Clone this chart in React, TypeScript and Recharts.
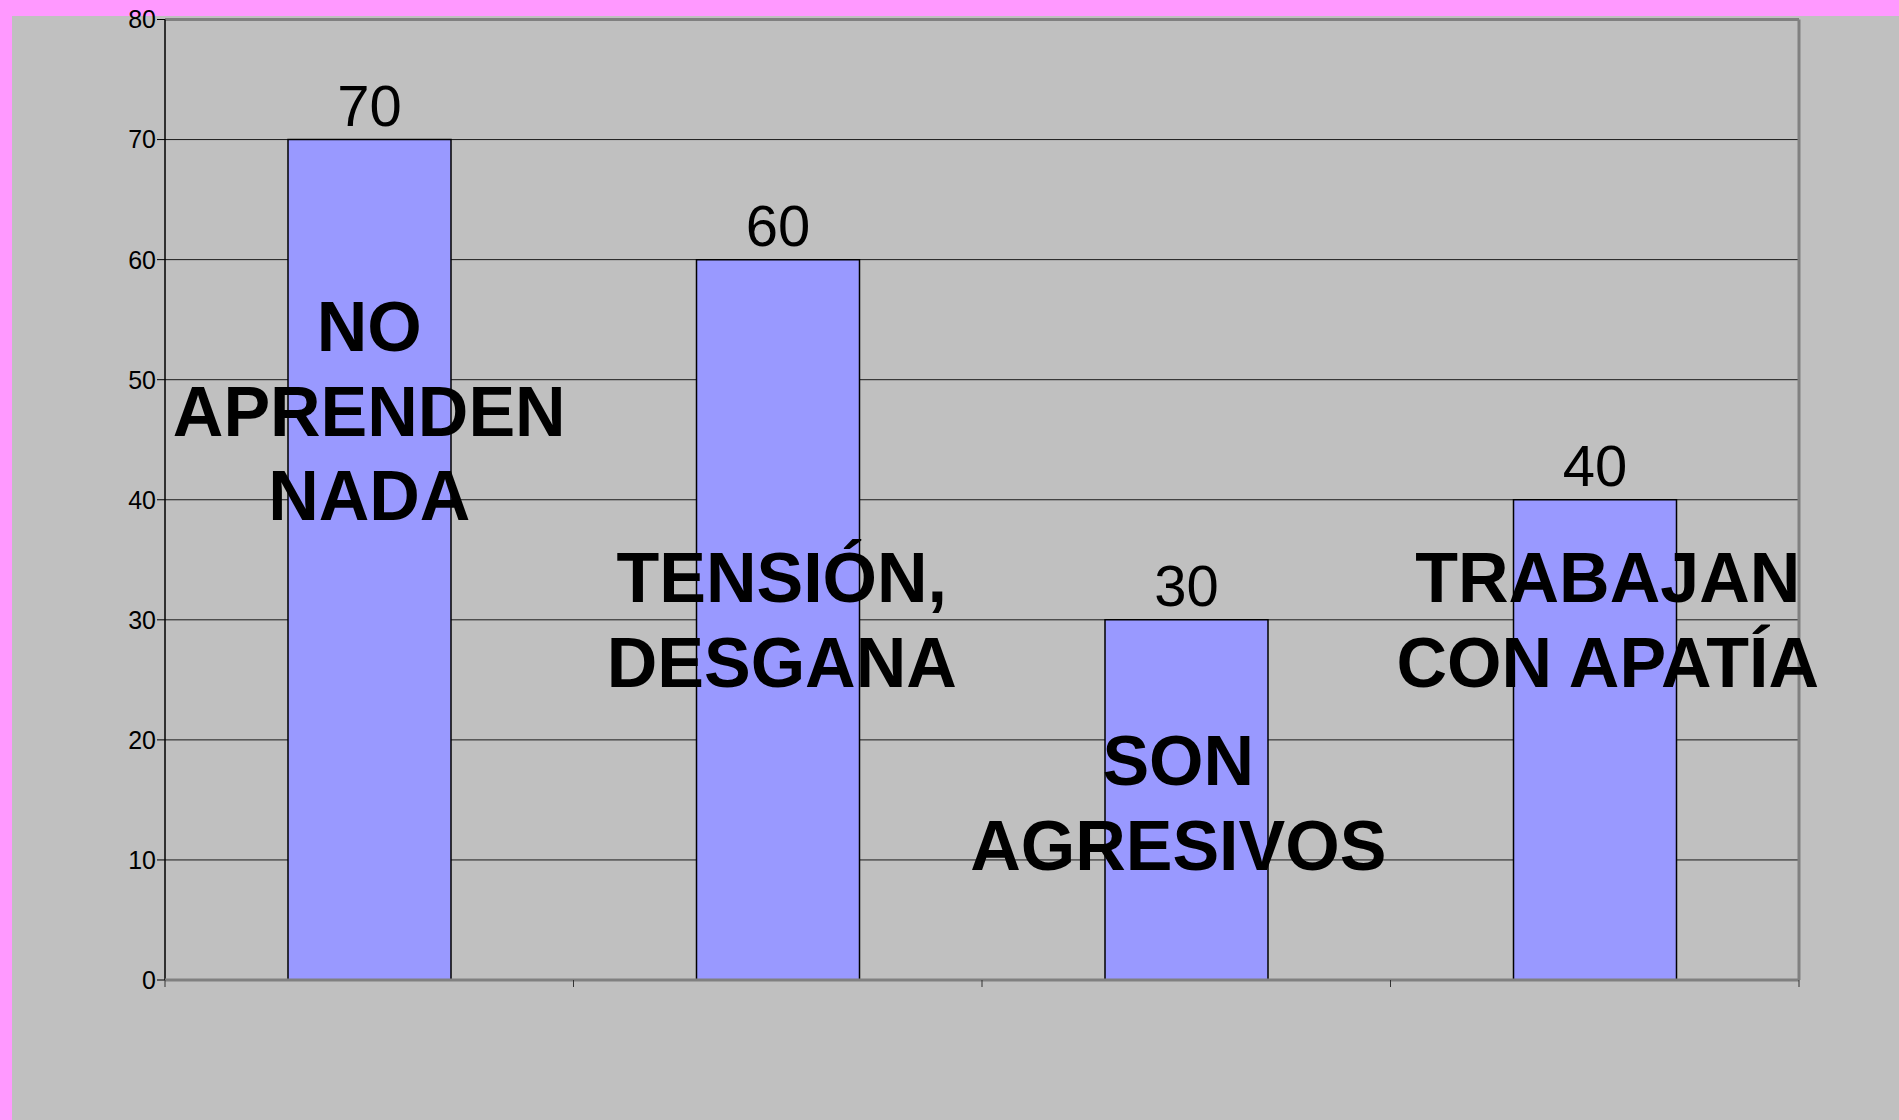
import { Bar, BarChart, CartesianGrid, LabelList, ReferenceLine, XAxis, YAxis } from 'recharts';

const categories = ['NO\nAPRENDEN\nNADA', 'TENSIÓN,\nDESGANA', 'SON\nAGRESIVOS', 'TRABAJAN\nCON APATÍA'];
const values = [70, 60, 30, 40];
const yTicks = [0, 10, 20, 30, 40, 50, 60, 70, 80];

// where each category caption sits (first baseline above the axis, horizontal nudge)
const CAPTION_LIFT = [629, 378, 195, 378];
const CAPTION_NUDGE = [0, 4, -8, 13];
const LINE_GAP = 84.5;

const FONT = '"Liberation Sans", Arial, sans-serif';

// caption + small tick marks on the category boundaries
function CategoryTick(props: any) {
  const { x, y, index, payload, visibleTicksCount } = props;
  const lines: string[] = String(payload.value).split('\n');
  const half = payload.offset || 0;
  const top = y - CAPTION_LIFT[index];
  const isLast = index === (visibleTicksCount ?? categories.length) - 1;
  return (
    <g>
      <line x1={x - half} x2={x - half} y1={y} y2={y + 7} stroke="#333" />
      {isLast && <line x1={x + half} x2={x + half} y1={y} y2={y + 7} stroke="#333" />}
      {lines.map((line, i) => (
        <text
          key={i}
          x={x + CAPTION_NUDGE[index]}
          y={top + i * LINE_GAP}
          textAnchor="middle"
          fontFamily={FONT}
          fontWeight="bold"
          fontSize={70}
          fill="#000"
        >
          {line}
        </text>
      ))}
    </g>
  );
}

export default function App() {
  const data = categories.map((name, i) => ({ name, value: values[i] }));

  return (
    <div style={{ position: 'fixed', left: 0, top: 0, width: 1899, height: 1120, background: '#FF99FF' }}>
      <div style={{ position: 'absolute', left: 12, top: 16, right: 0, bottom: 0, background: '#C0C0C0' }} />
      <div style={{ position: 'absolute', left: 0, top: 0 }}>
        <BarChart
          width={1899}
          height={1120}
          data={data}
          margin={{ top: 19.5, right: 99, bottom: 130, left: 105 }}
          barSize={163}
        >
          <CartesianGrid vertical={false} stroke="#1a1a1a" strokeWidth={1} />
          <YAxis
            domain={[0, 80]}
            ticks={yTicks}
            width={60}
            axisLine={{ stroke: '#000', strokeWidth: 1.5 }}
            tickLine={{ stroke: '#000' }}
            tickSize={8}
            tickMargin={1}
            tick={{ fontSize: 25, fill: '#000', fontFamily: FONT }}
            interval={0}
          />
          <YAxis
            yAxisId="right"
            orientation="right"
            domain={[0, 80]}
            width={1}
            tick={false}
            tickLine={false}
            axisLine={{ stroke: '#808080', strokeWidth: 3 }}
          />
          <XAxis
            dataKey="name"
            height={10}
            axisLine={{ stroke: '#808080', strokeWidth: 3 }}
            tickLine={false}
            tickSize={0}
            tickMargin={0}
            tick={<CategoryTick />}
            interval={0}
          />
          <ReferenceLine y={80} stroke="#808080" strokeWidth={3} />
          <Bar dataKey="value" fill="#9999FF" stroke="#000" strokeWidth={1.5} isAnimationActive={false}>
            <LabelList
              dataKey="value"
              position="top"
              offset={14}
              fontSize={58}
              fill="#000"
              fontFamily={FONT}
            />
          </Bar>
        </BarChart>
      </div>
    </div>
  );
}
